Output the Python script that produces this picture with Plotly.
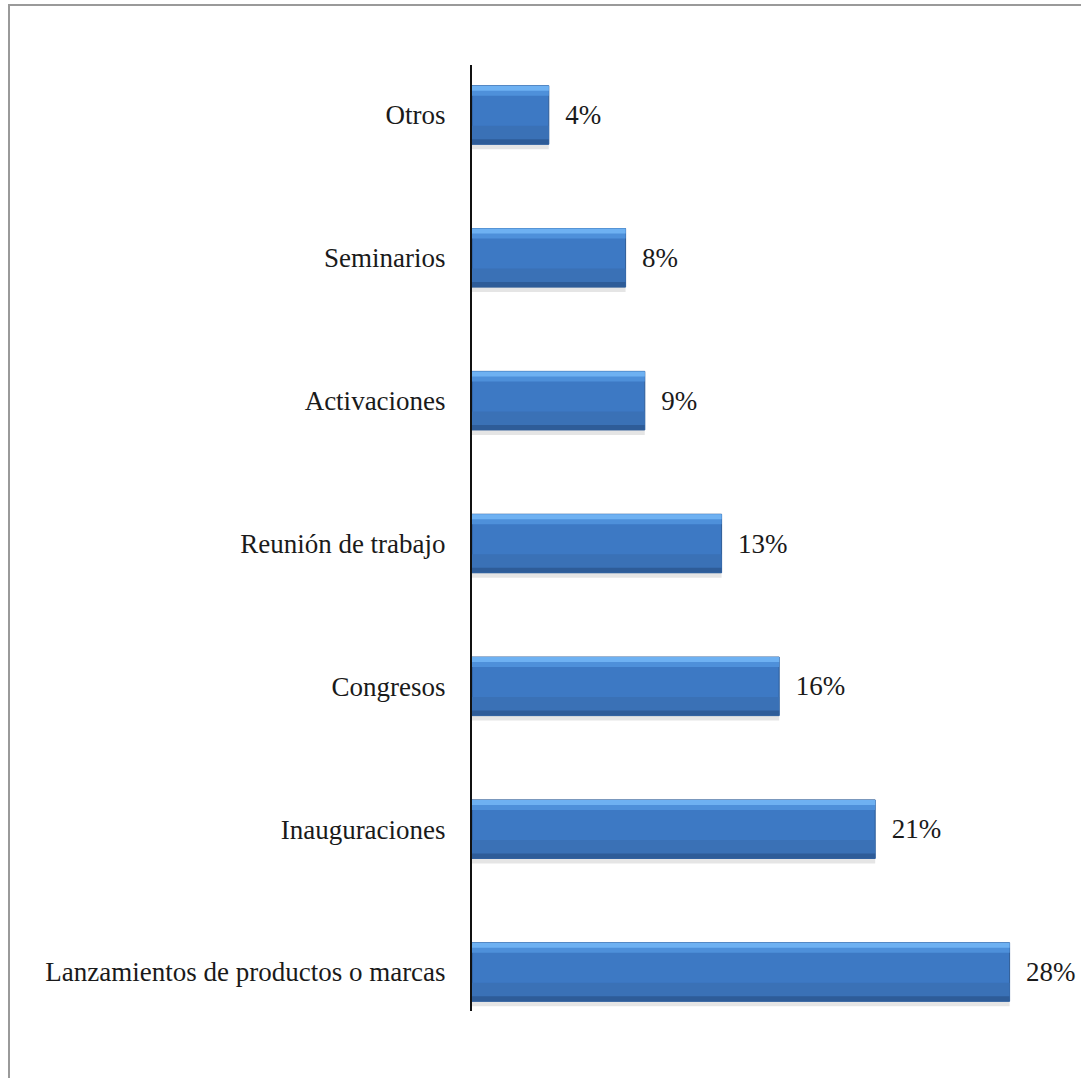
import plotly.graph_objects as go

categories = ["Lanzamientos de productos o marcas", "Inauguraciones", "Congresos",
              "Reunión de trabajo", "Activaciones", "Seminarios", "Otros"]
values = [28, 21, 16, 13, 9, 8, 4]
labels = [f"{v}%" for v in values]

W, H = 1081, 1078
font = dict(family="Liberation Serif, Times New Roman, serif", size=27, color="#1a1a1a")

fig = go.Figure()
# bar layers: (width, offset, colour) -> shadow, body, bevel strips
layers = [
    (0.035, -0.24, "rgba(0,0,0,0.10)"),
    (0.41, -0.205, "#3D79C4"),
    (0.13, -0.205, "#3A71B6"),
    (0.035, -0.205, "#2E5C98"),
    (0.07, 0.135, "#4E90DA"),
    (0.035, 0.17, "#6EB1F2"),
]
for i, (w, off, col) in enumerate(layers):
    kw = {}
    if i == 1:
        kw = dict(text=["\u00a0\u00a0" + s for s in labels], textposition="outside",
                  textfont=font, cliponaxis=False)
        line = dict(color="#2C5A96", width=1)
    else:
        line = dict(width=0)
    fig.add_trace(go.Bar(
        y=categories, x=values, orientation="h", width=w, offset=off,
        marker=dict(color=col, line=line), hoverinfo="skip",
        showlegend=False, **kw,
    ))

l, t = 472, 65
plot_w = 576
plot_h = 946.5
r = W - l - plot_w
b = H - t - plot_h

fig.update_layout(
    width=W, height=H, barmode="overlay",
    margin=dict(l=l, r=r, t=t, b=b),
    paper_bgcolor="white", plot_bgcolor="white",
    font=font,
    xaxis=dict(range=[0, 30], showgrid=False, zeroline=False, showline=False,
               showticklabels=False, ticks=""),
    yaxis=dict(type="category", categoryorder="array", categoryarray=categories,
               range=[-0.273, 6.35], showgrid=False, zeroline=False,
               showline=True, linecolor="#111", linewidth=2, ticks="",
               ticklabelstandoff=19, tickfont=font),
    shapes=[dict(type="rect", xref="paper", yref="paper",
                 x0=(9 - l) / plot_w, x1=1.2,
                 y0=-0.1, y1=1 + (t - 5) / plot_h,
                 line=dict(color="#9a9a9a", width=2), fillcolor="rgba(0,0,0,0)",
                 layer="below")],
)

fig.write_html(
    "out.html",
    config={"displayModeBar": False},
    post_script="document.body.style.margin='0';document.body.style.overflow='hidden';",
)
